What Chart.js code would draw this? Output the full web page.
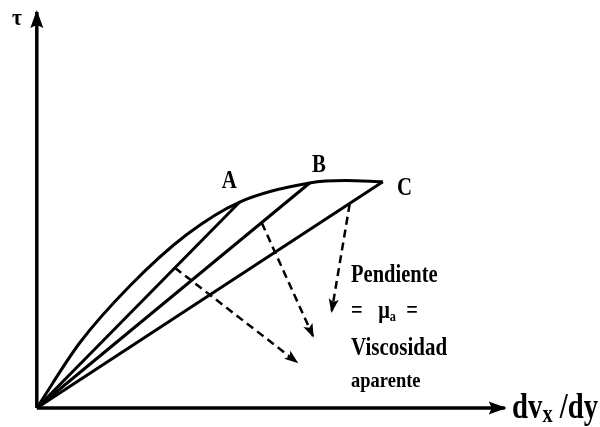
<!DOCTYPE html>
<html lang="es">
<head>
<meta charset="utf-8">
<title>Viscosidad aparente</title>
<script src="https://cdn.jsdelivr.net/npm/chart.js@4.4.1/dist/chart.umd.min.js"></script>
<style>
    html, body { margin: 0; padding: 0; background: #fff; }
    #viscosity-chart { display: block; }
</style>
</head>
<body>
<canvas id="viscosity-chart" width="600" height="427"></canvas>
<script>
// Flow curve (shear stress vs shear rate), arbitrary units
const curveX = [0, 0.93, 2.02, 3.26, 4.41, 5.93, 6.70, 7.52];
const curveY = [0, 1.64, 3.08, 4.38, 5.20, 5.68, 5.74, 5.71];

// Points on the curve used for the secant lines
const pointNames = ['A', 'B', 'C'];
const pointX = [4.41, 5.93, 7.52];
const pointY = [5.20, 5.68, 5.71];

// Dashed arrows: start on a secant, end at the tip
const arrowStartX = [6.80, 4.89, 3.00];
const arrowStartY = [5.15, 4.67, 3.54];
const arrowEndX = [6.41, 6.00, 5.65];
const arrowEndY = [2.45, 1.82, 1.16];

// Axis lengths
const xAxisEnd = 10.17;
const yAxisEnd = 10.0;

document.addEventListener('DOMContentLoaded', function() {
    const canvas = document.getElementById('viscosity-chart');
    const black = '#000';

    const datasets = [];

    // Axes
    datasets.push({ data: [{x: 0, y: 0}, {x: xAxisEnd, y: 0}], borderWidth: 3.5, arrow: 'axis' });
    datasets.push({ data: [{x: 0, y: 0}, {x: 0, y: yAxisEnd}], borderWidth: 3.5, arrow: 'axis' });

    // Curve
    datasets.push({
        data: curveX.map((x, i) => ({x: x, y: curveY[i]})),
        borderWidth: 3,
        cubicInterpolationMode: 'monotone'
    });

    // Secant lines from origin to A, B, C
    pointNames.forEach((name, i) => {
        datasets.push({ data: [{x: 0, y: 0}, {x: pointX[i], y: pointY[i]}], borderWidth: 3 });
    });

    // Dashed arrows
    arrowStartX.forEach((x, i) => {
        datasets.push({
            data: [{x: x, y: arrowStartY[i]}, {x: arrowEndX[i], y: arrowEndY[i]}],
            borderWidth: 2.5,
            borderDash: [8, 5],
            arrow: 'dash'
        });
    });

    datasets.forEach(ds => {
        ds.borderColor = black;
        ds.pointRadius = 0;
        ds.fill = false;
        ds.borderCapStyle = 'butt';
    });

    // Text labels, positioned in data units
    const serif = '"Liberation Serif", "DejaVu Serif", serif';
    const labels = [
        { parts: [['τ', 24, 0]], x: -0.54, y: 9.67, sx: 0.9 },
        { parts: [['A', 26, 0]], x: 4.02, y: 5.56, sx: 0.8 },
        { parts: [['B', 26, 0]], x: 5.98, y: 5.96, sx: 0.8 },
        { parts: [['C', 26, 0]], x: 7.83, y: 5.38, sx: 0.8 },
        { parts: [['Pendiente', 25, 0]], x: 6.83, y: 3.18, sx: 0.82 },
        { parts: [['=   ', 25, 0], ['μ', 25, 0], ['a', 15, 3], ['  =', 25, 0]], x: 6.83, y: 2.27, sx: 0.82 },
        { parts: [['Viscosidad', 25, 0]], x: 6.83, y: 1.34, sx: 0.84 },
        { parts: [['aparente', 22, 0]], x: 6.83, y: 0.53, sx: 0.84 },
        { parts: [['dv', 35, 0], ['x', 25, 4], [' /dy', 35, 0]], x: 10.33, y: -0.25, sx: 0.82 }
    ];

    const diagramPlugin = {
        id: 'diagram',
        afterDatasetsDraw(chart) {
            const ctx = chart.ctx;
            const xs = chart.scales.x;
            const ys = chart.scales.y;
            ctx.save();
            ctx.fillStyle = black;

            // Arrow heads at the end of flagged datasets
            chart.data.datasets.forEach(ds => {
                if (!ds.arrow) return;
                const n = ds.data.length;
                const p0 = ds.data[n - 2], p1 = ds.data[n - 1];
                const x0 = xs.getPixelForValue(p0.x), y0 = ys.getPixelForValue(p0.y);
                const x1 = xs.getPixelForValue(p1.x), y1 = ys.getPixelForValue(p1.y);
                const ang = Math.atan2(y1 - y0, x1 - x0);
                const len = ds.arrow === 'axis' ? 16 : 12;
                const half = ds.arrow === 'axis' ? 6.5 : 5;
                ctx.save();
                ctx.translate(x1, y1);
                ctx.rotate(ang);
                ctx.beginPath();
                ctx.moveTo(2, 0);
                ctx.lineTo(-len, -half);
                ctx.lineTo(-len + 3, 0);
                ctx.lineTo(-len, half);
                ctx.closePath();
                ctx.fill();
                ctx.restore();
            });

            // Text
            ctx.textBaseline = 'alphabetic';
            ctx.textAlign = 'left';
            labels.forEach(lb => {
                let px = xs.getPixelForValue(lb.x);
                const py = ys.getPixelForValue(lb.y);
                lb.parts.forEach(part => {
                    ctx.font = 'bold ' + part[1] + 'px ' + serif;
                    ctx.save();
                    ctx.translate(px, py + part[2]);
                    ctx.scale(lb.sx, 1);
                    ctx.fillText(part[0], 0, 0);
                    ctx.restore();
                    px += ctx.measureText(part[0]).width * lb.sx;
                });
            });
            ctx.restore();
        }
    };

    new Chart(canvas, {
        type: 'line',
        data: { datasets: datasets },
        options: {
            responsive: false,
            animation: false,
            devicePixelRatio: 1,
            layout: { padding: 0 },
            parsing: false,
            plugins: {
                legend: { display: false },
                tooltip: { enabled: false }
            },
            scales: {
                x: { type: 'linear', min: -0.80, max: 12.24, display: false },
                y: { type: 'linear', min: -0.48, max: 10.30, display: false }
            }
        },
        plugins: [diagramPlugin]
    });
});
</script>
</body>
</html>
